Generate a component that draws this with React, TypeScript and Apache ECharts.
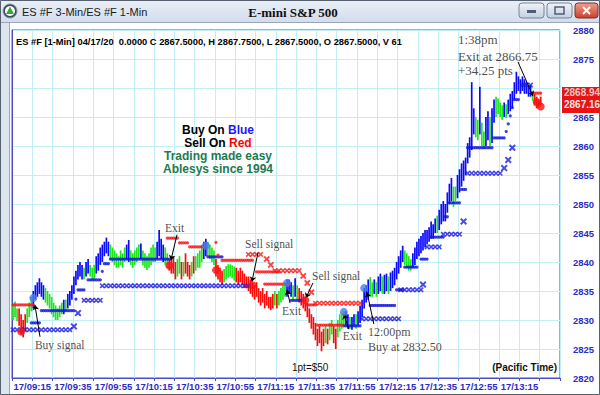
import React, { useEffect, useRef } from "react";
import * as echarts from "echarts";

// ---- axis labels ----
const xTickLabels = ["17/09:15", "17/09:35", "17/09:55", "17/10:15", "17/10:35", "17/10:55", "17/11:15", "17/11:35", "17/11:55", "17/12:15", "17/12:35", "17/12:55", "17/13:15"];
const yMin = 2820;
const yMax = 2880;
const yHiddenLabel = 2870; // covered by the last-price tag

// ---- 1-min bars (index = minute slot from 09:05) ----
const barLow = [
  2830.0, 2830.5, 2829.8, 2829.0, 2827.5, 2827.0, 2828.0, 2829.5, 2830.5, 2831.5,
  2832.0, 2833.5, 2834.0, 2834.5, 2834.0, 2833.5, 2833.0, 2832.5, 2832.0, 2831.0,
  2830.5, 2830.0, 2830.0, 2830.5, 2831.0, 2831.0, 2831.5, 2832.0, 2832.5, 2833.5,
  2834.5, 2836.0, 2837.0, 2837.5, 2837.0, 2837.0, 2837.5, 2838.0, 2837.5, 2837.0,
  2837.0, 2838.0, 2838.5, 2839.5, 2840.0, 2841.0, 2841.5, 2841.0, 2840.5, 2840.0,
  2839.5, 2839.0, 2839.0, 2839.5, 2839.0, 2840.0, 2840.5, 2840.0, 2839.5, 2839.0,
  2839.5, 2840.0, 2840.5, 2840.5, 2839.5, 2839.0, 2838.6, 2839.0, 2839.5, 2840.0,
  2840.0, 2840.5, 2841.0, 2840.5, 2840.0, 2839.5, 2839.0, 2838.5, 2838.0, 2838.0,
  2837.0, 2837.5, 2838.0, 2837.0, 2837.5, 2838.0, 2837.5, 2837.0, 2837.5, 2838.0,
  2838.5, 2839.0, 2839.0, 2840.0, 2840.5, 2841.0, 2841.0, 2840.5, 2840.0, 2839.5,
  2837.5, 2837.0, 2836.5, 2836.0, 2836.5, 2837.0, 2837.3, 2837.5, 2837.2, 2836.8,
  2836.5, 2836.0, 2836.5, 2836.0, 2835.5, 2835.5, 2835.0, 2834.5, 2834.0, 2833.5,
  2834.0, 2833.0, 2832.5, 2833.0, 2832.0, 2832.5, 2832.0, 2831.7, 2832.0, 2832.5,
  2832.0, 2832.5, 2833.0, 2833.5, 2834.0, 2834.0, 2834.5, 2834.0, 2833.5, 2834.0,
  2833.5, 2833.0, 2832.5, 2832.0, 2831.5, 2830.5, 2829.5, 2828.5, 2827.5, 2826.5,
  2825.5, 2826.0, 2824.6, 2825.5, 2826.0, 2825.8, 2826.5, 2827.5, 2826.0, 2825.0,
  2827.0, 2828.0, 2828.5, 2829.0, 2829.0, 2828.5, 2828.5, 2828.3, 2829.0, 2828.5,
  2829.0, 2829.5, 2830.5, 2832.0, 2833.0, 2833.5, 2834.0, 2834.0, 2834.5, 2834.0,
  2834.5, 2835.0, 2834.5, 2834.5, 2835.0, 2834.5, 2835.0, 2835.5, 2836.0, 2837.0,
  2838.0, 2839.0, 2840.0, 2839.5, 2839.0, 2838.5, 2838.5, 2839.0, 2839.5, 2840.5,
  2841.0, 2841.5, 2842.0, 2842.5, 2843.0, 2843.5, 2844.0, 2844.0, 2845.0, 2845.0,
  2845.5, 2846.5, 2847.0, 2847.0, 2848.5, 2850.0, 2850.5, 2849.5, 2850.5, 2851.0,
  2852.0, 2853.0, 2854.0, 2855.0, 2857.0, 2858.0, 2859.3, 2862.0, 2861.5, 2861.0,
  2862.0, 2860.0, 2859.5, 2860.0, 2861.0, 2860.0, 2860.5, 2864.0, 2865.0, 2865.5,
  2865.0, 2864.5, 2865.0, 2864.8, 2865.5, 2866.0, 2866.5, 2868.0, 2869.0, 2869.5,
  2869.0, 2869.5, 2869.0, 2869.0, 2868.5, 2868.5, 2867.8, 2867.0, 2866.5, 2866.6,
  2867.0,
];
const barHigh = [
  2832.5, 2833.2, 2832.0, 2832.0, 2831.0, 2830.0, 2831.0, 2832.0, 2833.0, 2834.0,
  2835.0, 2836.0, 2836.5, 2837.2, 2836.5, 2836.0, 2835.5, 2835.0, 2834.5, 2834.0,
  2833.0, 2832.5, 2832.0, 2832.5, 2833.0, 2833.5, 2833.5, 2834.5, 2835.0, 2836.0,
  2837.5, 2838.5, 2839.5, 2840.0, 2839.5, 2839.0, 2840.0, 2840.5, 2839.5, 2839.0,
  2839.5, 2841.0, 2841.5, 2842.5, 2843.0, 2843.5, 2844.2, 2843.5, 2843.0, 2842.5,
  2842.0, 2841.5, 2841.0, 2842.0, 2841.5, 2842.5, 2843.0, 2843.8, 2842.0, 2841.5,
  2842.0, 2842.5, 2843.0, 2843.2, 2842.0, 2841.5, 2841.0, 2841.5, 2842.5, 2843.0,
  2842.5, 2843.5, 2845.5, 2844.0, 2843.0, 2842.5, 2841.5, 2840.5, 2840.5, 2841.0,
  2840.0, 2840.5, 2841.0, 2840.0, 2840.0, 2841.5, 2840.0, 2839.5, 2840.0, 2841.0,
  2841.0, 2841.5, 2842.0, 2843.0, 2843.5, 2844.0, 2843.5, 2843.0, 2842.5, 2842.0,
  2840.5, 2839.5, 2839.0, 2838.5, 2838.8, 2839.3, 2839.6, 2839.6, 2839.4, 2839.2,
  2839.0, 2838.5, 2839.0, 2838.5, 2838.0, 2837.5, 2837.5, 2837.0, 2836.5, 2836.0,
  2836.5, 2835.5, 2835.0, 2835.5, 2834.5, 2835.0, 2834.0, 2834.0, 2834.5, 2835.0,
  2834.5, 2835.0, 2835.5, 2836.0, 2836.5, 2837.0, 2837.0, 2836.5, 2836.0, 2837.2,
  2836.0, 2835.5, 2835.0, 2834.5, 2834.0, 2833.0, 2832.0, 2831.0, 2830.5, 2829.5,
  2828.5, 2829.0, 2828.0, 2828.5, 2829.0, 2828.5, 2829.5, 2830.0, 2829.0, 2828.5,
  2830.0, 2831.0, 2831.2, 2831.5, 2831.5, 2831.0, 2830.5, 2830.5, 2831.0, 2831.0,
  2831.5, 2832.5, 2833.5, 2835.5, 2836.0, 2837.0, 2837.4, 2836.5, 2837.0, 2836.5,
  2837.5, 2838.0, 2837.5, 2837.8, 2838.0, 2837.5, 2838.2, 2838.5, 2839.0, 2840.0,
  2841.0, 2842.0, 2842.8, 2842.0, 2841.5, 2841.0, 2840.5, 2841.5, 2842.5, 2843.5,
  2844.0, 2844.5, 2845.0, 2845.5, 2845.5, 2846.0, 2847.0, 2846.5, 2847.5, 2848.0,
  2849.0, 2850.0, 2850.5, 2850.0, 2852.0, 2853.5, 2854.5, 2853.0, 2853.0, 2855.0,
  2856.0, 2857.0, 2857.5, 2858.0, 2860.5, 2861.5, 2871.0, 2866.5, 2865.0, 2864.5,
  2870.2, 2864.0, 2862.5, 2865.0, 2866.0, 2865.0, 2866.5, 2868.0, 2868.5, 2868.2,
  2867.5, 2867.0, 2867.5, 2867.2, 2868.0, 2869.0, 2869.5, 2871.0, 2872.8, 2872.0,
  2871.5, 2872.0, 2871.5, 2871.0, 2870.5, 2870.5, 2869.5, 2869.0, 2868.5, 2868.0,
  2868.5,
];
// g = pullback (green), b = up (blue), r = down (red)
const barStates =
  "gggrrrrggg" + "bbbbbbgggg" + "gggggbgbbb" + "bbbbbgbbgg" + "gbbbbbbbgg" +
  "ggggggbbgg" + "gggbgggggg" + "gbbbbggrrr" + "rggrgrrrgr" + "ggggbbgggg" +
  "rrrrgggggg" + "rrrrrrrrrr" + "rrrrrrrrrg" + "rggggbbbgb" + "grrrrrrrrr" +
  "rrrrgrggrr" + "ggggbbgbbg" + "bbbbbbggbg" + "bbgbbgbbbb" + "bbbggggbbb" +
  "bbbbbbbbbg" + "bbbbbbbggb" + "bbbbbbbbgg" + "bggbbgbbgg" + "ggbgbbbbbb" +
  "bbbbbbgrrr" + "r";

// ---- indicator segments [firstSlot, lastSlot, price] ----
const blueDotSegs = [
  [9, 13, 2829.5], [14, 30, 2831.6], [31, 31, 2833.6], [32, 35, 2835.2], [37, 43, 2836.9],
  [44, 44, 2838.4], [45, 47, 2839.7], [48, 77, 2840.5], [96, 103, 2840.9], [137, 142, 2833.4],
  [163, 171, 2829.0], [176, 188, 2832.5], [189, 192, 2835.2], [193, 199, 2839.1], [201, 204, 2840.5],
  [206, 212, 2844.3], [213, 214, 2847.8], [215, 220, 2850.2], [221, 223, 2852.5], [224, 236, 2859.7],
  [237, 242, 2861.4], [243, 243, 2862.5], [244, 244, 2863.8], [245, 245, 2865.2], [246, 246, 2866.6],
  [247, 249, 2868.0],
];
const blueXSegs = [
  [0, 28, 2828.3], [35, 43, 2833.4], [44, 117, 2835.9], [172, 190, 2830.2], [191, 201, 2835.2],
  [204, 210, 2842.6], [212, 220, 2844.8], [224, 240, 2855.3], [251, 255, 2870.5],
];
const blueBigX = [[30, 2828.9], [32, 2831.2], [202, 2836.1], [222, 2847.0], [242, 2856.2], [244, 2857.6], [246, 2859.7]];
const redDotSegs = [
  [0, 10, 2832.6], [76, 81, 2844.1], [82, 86, 2843.3], [87, 94, 2842.6], [100, 100, 2843.4],
  [101, 101, 2841.2], [103, 118, 2840.3], [120, 131, 2838.3], [124, 136, 2836.2], [145, 149, 2832.6],
  [150, 162, 2829.1], [257, 260, 2869.1],
];
const redXSegs = [[116, 123, 2841.3], [129, 142, 2838.5], [149, 172, 2832.9]];
const redBigX = [[125, 2840.5], [127, 2839.5], [143, 2837.6], [145, 2836.4], [147, 2834.8]];
const blueSignals = [[10, 2833.8], [95, 2842.8], [135, 2836.4], [163, 2831.4], [173, 2835.5]];
const redSignals = [[4, 2828.0], [77, 2839.4], [100, 2838.6], [118, 2836.0], [144, 2833.4], [258, 2867.6], [260, 2866.8]];

// ---- annotations (data coords: minute slot, price) ----
const notes = [
  { text: "Buy signal", v: 11.3, p: 2825.7, size: 11.5 },
  { text: "Exit", v: 75.4, p: 2845.9, size: 11.5 },
  { text: "Sell signal", v: 114.8, p: 2843.1, size: 11.5 },
  { text: "Exit", v: 133, p: 2831.6, size: 11.5 },
  { text: "Sell signal", v: 147.8, p: 2837.6, size: 11.5 },
  { text: "Exit", v: 163, p: 2827.2, size: 11.5 },
  { text: "12:00pm", v: 175.4, p: 2827.9, size: 12 },
  { text: "Buy at 2832.50", v: 175.4, p: 2825.3, size: 12 },
  { text: "1:38pm", v: 219.7, p: 2878.3, size: 13 },
  { text: "Exit at 2866.75", v: 219.7, p: 2875.5, size: 13 },
  { text: "+34.25 pts", v: 219.7, p: 2873.1, size: 13 },
];
const arrows = [
  [13.8, 2827.1, 11.3, 2832.6],
  [81.3, 2844.7, 78.3, 2840.3],
  [121.2, 2841.6, 118.2, 2836.6],
  [137, 2832.9, 135.5, 2835.2],
  [148.3, 2836.4, 144.8, 2833.8],
  [166, 2828.4, 163.5, 2831.0],
  [178.3, 2829.3, 174.9, 2834.8],
  [249.3, 2874.5, 256.7, 2868.6],
];

const COLORS: Record<string, string> = { g: "#1ee61e", b: "#0a0aff", r: "#ff0a0a" };
const AXIS_BLUE = "#2b2bc8";
const X_PATH = "path://M0,2 L2,0 L5,3 L8,0 L10,2 L7,5 L10,8 L8,10 L5,7 L2,10 L0,8 L3,5 Z";

function segPoints(segs: number[][], step: number) {
  const out: number[][] = [];
  segs.forEach(([a, b, p]) => {
    for (let i = a; i <= b; i += step) out.push([i + 0.5, p]);
  });
  return out;
}
const slot = (pts: number[][]) => pts.map(([i, p]) => [i + 0.5, p]);

export default function App() {
  const ref = useRef<HTMLDivElement>(null);
  useEffect(() => {
    const chart = echarts.init(ref.current!, null, { renderer: "svg" });
    const barData = barLow.map((lo, i) => ({
      value: [i + 0.5, lo, barHigh[i]],
      itemStyle: { color: COLORS[barStates[i]] },
    }));
    const sans = "Liberation Sans";
    const serif = "Liberation Serif";
    const option: any = {
      animation: false,
      backgroundColor: "#ffffff",
      grid: { left: 12, right: 40, top: 30, bottom: 17, show: true, borderColor: "#4b4bd0", borderWidth: 1, backgroundColor: "#ffffff" },
      xAxis: {
        type: "value",
        min: 0,
        max: 270,
        interval: 10,
        axisLine: { show: true, lineStyle: { color: "#4b4bd0", width: 1 } },
        axisTick: { show: true, length: 3, lineStyle: { color: "#4b4bd0" } },
        axisLabel: {
          margin: 3,
          color: AXIS_BLUE,
          fontFamily: sans,
          fontWeight: "bold",
          fontSize: 9.5,
          showMinLabel: true,
          showMaxLabel: true,
          formatter: (v: number) => {
            const k = (v - 10) / 20;
            return Number.isInteger(k) && k >= 0 && k < xTickLabels.length ? xTickLabels[k] : "";
          },
        },
        splitLine: { show: true, lineStyle: { color: "#c3eef6", width: 1 } },
      },
      yAxis: {
        type: "value",
        position: "right",
        min: yMin,
        max: yMax,
        interval: 5,
        axisLine: { show: true, lineStyle: { color: "#4b4bd0" } },
        axisTick: { show: false },
        axisLabel: {
          margin: 13,
          color: AXIS_BLUE,
          fontFamily: sans,
          fontWeight: "bold",
          fontSize: 9.5,
          formatter: (v: number) => (v === yHiddenLabel ? "" : String(v)),
        },
        splitLine: { show: true, lineStyle: { color: "#c3eef6", width: 1 } },
      },
      series: [
        {
          type: "custom",
          name: "bars",
          data: barData,
          encode: { x: 0, y: [1, 2] },
          renderItem: (params: any, api: any) => {
            const x = api.value(0);
            const top = api.coord([x, api.value(2)]);
            const bot = api.coord([x, api.value(1)]);
            return {
              type: "rect",
              shape: { x: top[0] - 0.85, y: top[1], width: 1.7, height: Math.max(bot[1] - top[1], 1) },
              style: { fill: api.visual("color") },
            };
          },
          z: 2,
        },
        { type: "scatter", data: segPoints(blueXSegs, 2), symbol: X_PATH, symbolSize: 5.5, itemStyle: { color: "#1c1ce0" }, z: 3 },
        { type: "scatter", data: slot(blueBigX), symbol: X_PATH, symbolSize: 7, itemStyle: { color: "#1c1ce0" }, z: 3 },
        { type: "scatter", data: segPoints(redXSegs, 2), symbol: X_PATH, symbolSize: 5.5, itemStyle: { color: "#ff1414" }, z: 3 },
        { type: "scatter", data: slot(redBigX), symbol: X_PATH, symbolSize: 6.5, itemStyle: { color: "#ff1414" }, z: 3 },
        { type: "scatter", data: segPoints(blueDotSegs, 1), symbol: "circle", symbolSize: 3.2, itemStyle: { color: "#1414dc" }, z: 4 },
        { type: "scatter", data: segPoints(redDotSegs, 1), symbol: "circle", symbolSize: 3.2, itemStyle: { color: "#ff1414" }, z: 4 },
        { type: "scatter", data: slot(blueSignals), symbol: "circle", symbolSize: 8, itemStyle: { color: "#4a7ee6" }, z: 5 },
        { type: "scatter", data: slot(redSignals), symbol: "circle", symbolSize: 8, itemStyle: { color: "#ff1010" }, z: 5 },
        {
          type: "scatter",
          symbolSize: 0,
          z: 6,
          silent: true,
          data: notes.map((n) => ({
            value: [n.v, n.p],
            label: {
              show: true,
              position: [0, 0],
              align: "left",
              verticalAlign: "middle",
              formatter: n.text,
              color: "#1a1a1a",
              fontFamily: serif,
              fontSize: n.size,
            },
          })),
          markLine: {
            silent: true,
            symbol: ["none", "arrow"],
            symbolSize: 5,
            label: { show: false },
            lineStyle: { color: "#000", width: 1, type: "solid" },
            data: arrows.map(([a, b, c, d]) => [{ coord: [a, b] }, { coord: [c, d] }]),
          },
        },
      ],
      graphic: [
        // window frame
        { type: "rect", shape: { x: 0, y: 0, width: 600, height: 22 }, style: { fill: { type: "linear", x: 0, y: 0, x2: 0, y2: 1, colorStops: [{ offset: 0, color: "#e9eff7" }, { offset: 1, color: "#d3ddeb" }] } }, z: 50 },
        { type: "line", shape: { x1: 0, y1: 22.5, x2: 600, y2: 22.5 }, style: { stroke: "#9aa7b8", lineWidth: 1 }, z: 50 },
        { type: "rect", shape: { x: 0, y: 23, width: 9, height: 372 }, style: { fill: "#dde5ef" }, z: 50 },
        { type: "line", shape: { x1: 9.5, y1: 23, x2: 9.5, y2: 395 }, style: { stroke: "#9aa7b8", lineWidth: 1 }, z: 50 },
        { type: "rect", shape: { x: 0.5, y: 0.5, width: 599, height: 394 }, style: { fill: "none", stroke: "#56606e", lineWidth: 1 }, z: 51 },
        // icon
        { type: "circle", shape: { cx: 10, cy: 11, r: 7 }, style: { fill: "#3a4f5e", stroke: "#8c98a6", lineWidth: 1 }, z: 52 },
        { type: "circle", shape: { cx: 10, cy: 11, r: 5 }, style: { fill: "#ffffff" }, z: 52 },
        { type: "polygon", shape: { points: [[10, 6.5], [14, 14], [6, 14]] }, style: { fill: "#36a836" }, z: 53 },
        { type: "text", x: 22, y: 11.5, style: { text: "ES #F 3-Min/ES #F 1-Min", fill: "#1a1a1a", fontFamily: sans, fontSize: 11, verticalAlign: "middle" }, z: 52 },
        { type: "text", x: 293, y: 12, style: { text: "E-mini S&P 500", fill: "#111", fontFamily: serif, fontWeight: "bold", fontSize: 13, align: "center", verticalAlign: "middle" }, z: 52 },
        // window buttons
        { type: "rect", shape: { x: 519, y: 3, width: 25, height: 15, r: 3 }, style: { fill: { type: "linear", x: 0, y: 0, x2: 0, y2: 1, colorStops: [{ offset: 0, color: "#f1f4f9" }, { offset: 1, color: "#c3cfe0" }] }, stroke: "#76849a", lineWidth: 1 }, z: 52 },
        { type: "rect", shape: { x: 527, y: 10, width: 9, height: 3 }, style: { fill: "#4f5e75" }, z: 53 },
        { type: "rect", shape: { x: 547, y: 3, width: 25, height: 15, r: 3 }, style: { fill: { type: "linear", x: 0, y: 0, x2: 0, y2: 1, colorStops: [{ offset: 0, color: "#f1f4f9" }, { offset: 1, color: "#c3cfe0" }] }, stroke: "#76849a", lineWidth: 1 }, z: 52 },
        { type: "rect", shape: { x: 555, y: 7, width: 9, height: 7 }, style: { fill: "none", stroke: "#4f5e75", lineWidth: 1.5 }, z: 53 },
        { type: "rect", shape: { x: 575, y: 3, width: 23, height: 15, r: 3 }, style: { fill: { type: "linear", x: 0, y: 0, x2: 0, y2: 1, colorStops: [{ offset: 0, color: "#eea08f" }, { offset: 1, color: "#c8402e" }] }, stroke: "#7a3328", lineWidth: 1 }, z: 52 },
        { type: "line", shape: { x1: 583, y1: 7, x2: 590, y2: 14 }, style: { stroke: "#fff", lineWidth: 2 }, z: 53 },
        { type: "line", shape: { x1: 590, y1: 7, x2: 583, y2: 14 }, style: { stroke: "#fff", lineWidth: 2 }, z: 53 },
        // header line inside plot
        { type: "text", x: 16, y: 42, style: { text: "ES #F [1-Min] 04/17/20  0.0000 C 2867.5000, H 2867.7500, L 2867.5000, O 2867.5000, V 61", fill: "#000", fontFamily: sans, fontWeight: "bold", fontSize: 9.3, verticalAlign: "middle" }, z: 40 },
        // slogan block
        { type: "text", x: 218, y: 130, style: { text: "{k|Buy On }{b|Blue}", align: "center", verticalAlign: "middle", rich: { k: { fill: "#000", fontFamily: sans, fontWeight: "bold", fontSize: 12 }, b: { fill: "#1a1aff", fontFamily: sans, fontWeight: "bold", fontSize: 12 } } }, z: 40 },
        { type: "text", x: 218, y: 143, style: { text: "{k|Sell On }{r|Red}", align: "center", verticalAlign: "middle", rich: { k: { fill: "#000", fontFamily: sans, fontWeight: "bold", fontSize: 12 }, r: { fill: "#ff0000", fontFamily: sans, fontWeight: "bold", fontSize: 12 } } }, z: 40 },
        { type: "text", x: 218, y: 156, style: { text: "Trading made easy", fill: "#1b7a52", fontFamily: sans, fontWeight: "bold", fontSize: 12, align: "center", verticalAlign: "middle" }, z: 40 },
        { type: "text", x: 218, y: 169, style: { text: "Ablesys since 1994", fill: "#1b7a52", fontFamily: sans, fontWeight: "bold", fontSize: 12, align: "center", verticalAlign: "middle" }, z: 40 },
        // bottom notes
        { type: "text", x: 292, y: 367, style: { text: "1pt=$50", fill: "#111", fontFamily: sans, fontSize: 10, verticalAlign: "middle" }, z: 40 },
        { type: "text", x: 557, y: 367, style: { text: "(Pacific Time)", fill: "#111", fontFamily: sans, fontWeight: "bold", fontSize: 10, align: "right", verticalAlign: "middle" }, z: 40 },
        // last price tag
        { type: "rect", shape: { x: 562, y: 87, width: 38, height: 26 }, style: { fill: "#ea1212" }, z: 60 },
        { type: "text", x: 564, y: 92, style: { text: "2868.94", fill: "#e6c8c8", fontFamily: sans, fontWeight: "bold", fontSize: 10, verticalAlign: "middle" }, z: 61 },
        { type: "text", x: 564, y: 104, style: { text: "2867.16", fill: "#e8e8e8", fontFamily: sans, fontWeight: "bold", fontSize: 10, verticalAlign: "middle" }, z: 61 },
      ],
    };
    chart.setOption(option);
    return () => chart.dispose();
  }, []);
  return <div ref={ref} style={{ position: "absolute", left: 0, top: 0, width: 600, height: 395 }} />;
}
